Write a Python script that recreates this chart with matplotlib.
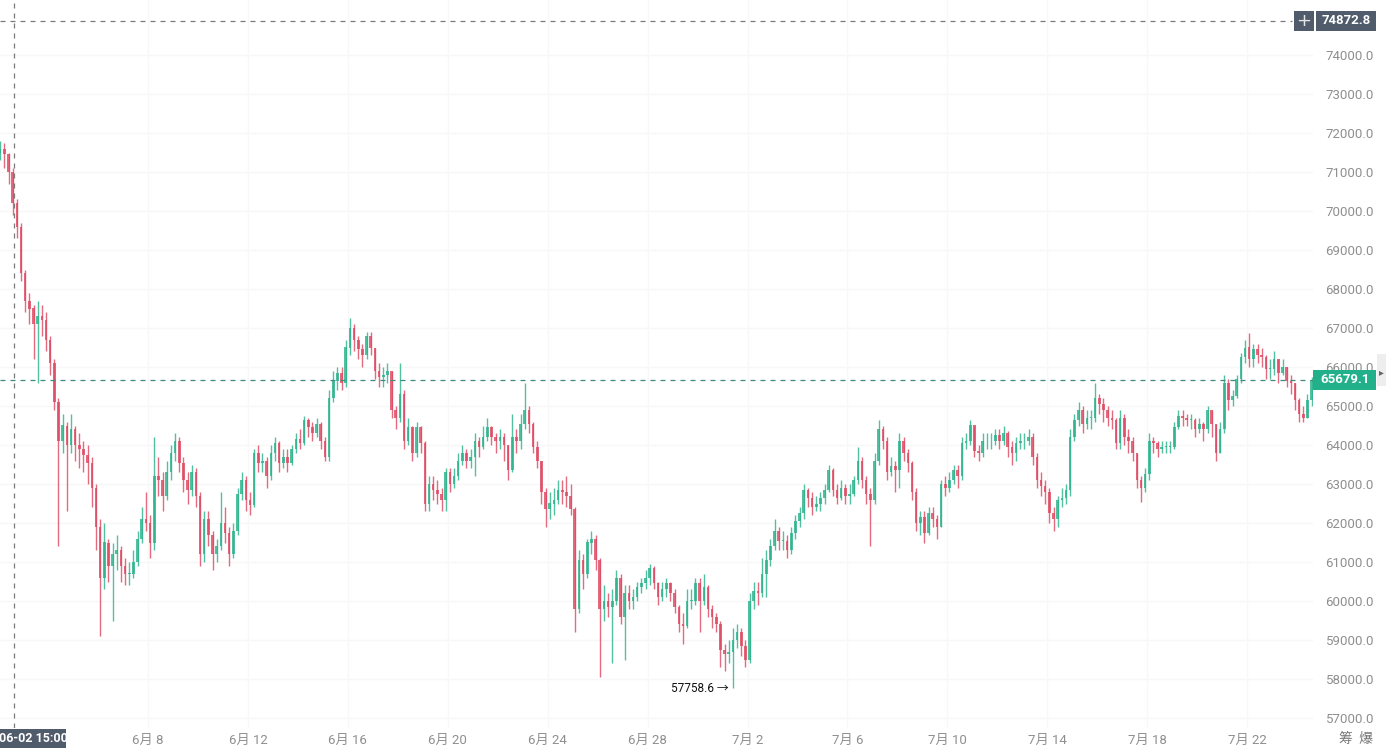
import matplotlib
matplotlib.use("Agg")
import matplotlib.pyplot as plt
from matplotlib.patches import Rectangle
import numpy as np
import pandas as pd

# ---------------- data (4-hour candles) ----------------
start_time = "2024-06-02 00:00"
first_open = 71500

close = [
    71600, 71450, 71000, 70200, 69600, 68400, 67700, 67500, 67100, 67300,
    67200, 66700, 66100, 65100, 64100, 64500, 64000, 64400, 64000, 63900,
    63750, 63550, 62900, 61900, 60600, 61500, 60900, 61200, 61300, 60900,
    60700, 60700, 61000, 61600, 62100, 62000, 61500, 63200, 63100, 62700,
    63300, 63800, 64100, 63550, 63100, 62850, 63300, 62700, 61200, 62100,
    61700, 61200, 61400, 62000, 61750, 61200, 61800, 62750, 63100, 62600,
    62450, 63800, 63550, 63600, 63200, 63800, 64050, 63550, 63700, 63550,
    63900, 64150, 64050, 64650, 64450, 64300, 64550, 64100, 63700, 65200,
    65650, 65850, 65600, 66500, 67000, 66700, 66450, 66300, 66800, 66500,
    65900, 65750, 65800, 65900, 64900, 64700, 65300, 64100, 64450, 63800,
    64450, 64050, 62500, 63000, 62850, 62750, 62600, 63300, 63000, 63200,
    63600, 63800, 63600, 63700, 64100, 63950, 64200, 64450, 64200, 64100,
    64200, 64000, 63350, 64200, 64100, 64550, 64900, 64550, 63950, 63600,
    62800, 62350, 62500, 62600, 62850, 62800, 62700, 62350, 59800, 61050,
    60700, 61500, 61600, 61050, 59800, 60000, 59850, 60000, 60600, 59600,
    60200, 60000, 60100, 60350, 60450, 60600, 60850, 60450, 60100, 60300,
    60450, 60200, 59850, 59400, 59350, 60000, 60000, 60450, 60000, 60350,
    59800, 59600, 59400, 58750, 58650, 58700, 59000, 59200, 58850, 58500,
    60000, 60250, 60200, 60700, 61050, 61400, 61800, 61550, 61550, 61300,
    61750, 62050, 62250, 62850, 62650, 62400, 62500, 62650, 62850, 63350,
    62850, 62650, 62900, 62700, 62750, 63100, 63600, 63100, 62750, 62600,
    63600, 64400, 64100, 63300, 63450, 63350, 64100, 63800, 63550, 62800,
    62000, 62150, 61750, 62250, 62100, 61900, 63000, 62900, 63100, 63350,
    63200, 64050, 64100, 64500, 63850, 63800, 64100, 64100, 64100, 64250,
    64100, 64300, 63950, 63800, 64050, 64100, 64100, 64200, 63700, 63100,
    62950, 62800, 62250, 62100, 62600, 62650, 62850, 64200, 64650, 64900,
    64550, 64700, 64700, 65200, 65050, 64900, 64700, 64650, 64050, 64700,
    64200, 64100, 63800, 63100, 62900, 63250, 64100, 64050, 63900, 63950,
    63950, 63950, 64450, 64750, 64700, 64650, 64650, 64400, 64550, 64400,
    64900, 64550, 63800, 64400, 65600, 65150, 65250, 65700, 66250, 66500,
    66200, 66450, 66300, 66250, 65950, 65950, 66200, 65850, 66000, 65650,
    65600, 65150, 64800, 64700, 65150, 65679.1,
]

high = [
    71800, 71750, 71500, 71100, 70300, 69700, 68500, 67900, 67600, 67700,
    67600, 67400, 66800, 66200, 65200, 64800, 64600, 64800, 64500, 64300,
    64100, 64000, 63700, 63000, 62100, 62000, 61600, 61500, 61700, 61400,
    61100, 61000, 61300, 61800, 62400, 62800, 62200, 64200, 63700, 63300,
    63600, 64000, 64300, 64200, 63700, 63300, 63500, 63400, 62800, 62300,
    62300, 61800, 61600, 62800, 62400, 61900, 62000, 62900, 63300, 63200,
    62800, 63900, 64000, 63800, 63700, 64000, 64200, 64100, 63900, 63900,
    64000, 64300, 64400, 64750, 64700, 64600, 64700, 64600, 64200, 65400,
    65900, 66000, 66000, 66700, 67250, 67100, 66800, 66600, 66900, 66900,
    66500, 66100, 66000, 66100, 65900, 65000, 66100, 65400, 64700, 64500,
    64600, 64500, 64100, 63200, 63200, 63100, 62900, 63400, 63400, 63400,
    63800, 64000, 63900, 63900, 64300, 64200, 64500, 64700, 64500, 64300,
    64400, 64300, 64000, 64800, 64400, 64800, 65600, 65000, 64600, 64100,
    63600, 62900, 62800, 62900, 63100, 63100, 63200, 63000, 62400, 61300,
    61200, 61600, 61800, 61700, 61100, 60400, 60200, 60300, 60800, 60700,
    60400, 60400, 60300, 60500, 60600, 60800, 60950, 60900, 60500, 60500,
    60600, 60500, 60300, 59900, 59700, 60300, 60300, 60600, 60600, 60700,
    60400, 59900, 59700, 59500, 58900, 59000, 59300, 59400, 59300, 59000,
    60200, 60500, 60500, 61100, 61300, 61600, 62100, 61900, 61800, 61700,
    61900, 62200, 62400, 63000, 62900, 62800, 62700, 62800, 63000, 63500,
    63400, 63000, 63100, 63000, 63000, 63200, 63950, 63700, 63200, 62900,
    63800, 64650, 64500, 64200, 63700, 63600, 64300, 64200, 63900, 63600,
    62900, 62300, 62300, 62400, 62400, 62200, 63100, 63200, 63300, 63500,
    63500, 64200, 64300, 64650, 64500, 64000, 64300, 64300, 64300, 64400,
    64400, 64500, 64350, 64100, 64200, 64300, 64300, 64400, 64300, 63800,
    63300, 63100, 62900, 62400, 62700, 62900, 63000, 64400, 64800, 65100,
    65000, 64900, 64900, 65600, 65300, 65200, 65000, 64900, 64700, 64900,
    64800, 64400, 64200, 63800, 63200, 63400, 64300, 64200, 64100, 64100,
    64100, 64100, 64600, 64900, 64900, 64800, 64800, 64700, 64700, 64600,
    65000, 64900, 64500, 64600, 65800, 65700, 65400, 65800, 66350, 66700,
    66870, 66600, 66600, 66500, 66300, 66200, 66400, 66200, 66200, 66000,
    65800, 65600, 65200, 65000, 65300, 65750,
]

low = [
    71300, 71100, 70700, 69900, 69300, 68200, 67400, 67100, 66200, 65600,
    66800, 66400, 65800, 64900, 61400, 63800, 62300, 63800, 63600, 63400,
    63300, 63000, 62400, 61300, 59100, 60300, 60500, 59500, 60800, 60500,
    60400, 60400, 60600, 60900, 61500, 61800, 61100, 61300, 62700, 62300,
    62600, 63100, 63600, 63300, 62800, 62500, 62700, 62400, 60900, 61000,
    61400, 60800, 61000, 61300, 61500, 60900, 61100, 61700, 62600, 62300,
    62200, 62400, 63300, 63300, 62900, 63100, 63600, 63300, 63400, 63300,
    63500, 63800, 63900, 64000, 64200, 64100, 64200, 63900, 63600, 63600,
    65100, 65400, 65400, 65500, 66300, 66400, 66200, 66000, 66200, 66300,
    65700, 65500, 65500, 65600, 64700, 64400, 64600, 63900, 64000, 63600,
    63700, 63800, 62300, 62300, 62600, 62500, 62300, 62300, 62800, 62900,
    63100, 63500, 63400, 63400, 63200, 63700, 63900, 64100, 64000, 63800,
    63900, 63600, 63100, 63300, 63800, 63900, 64400, 64300, 63800, 63400,
    62500, 61900, 62100, 62200, 62500, 62500, 62400, 62200, 59200, 59700,
    60300, 60600, 61200, 60800, 58050, 59500, 59600, 58400, 59900, 59400,
    58500, 59800, 59800, 60000, 60200, 60300, 60400, 60300, 59900, 60000,
    60100, 60000, 59700, 59200, 58900, 59300, 59800, 59900, 59200, 59900,
    59600, 59300, 59200, 58300, 58200, 58400, 57758.6, 58800, 58600, 58300,
    58400, 59800, 59900, 60100, 60100, 60900, 61300, 61300, 61300, 61100,
    61200, 61600, 61900, 62100, 62400, 62200, 62300, 62300, 62500, 62800,
    62700, 62500, 62600, 62500, 62500, 62700, 63000, 62900, 62500, 61400,
    62500, 63500, 63900, 63100, 63200, 62800, 62900, 63600, 63300, 62600,
    61800, 61700, 61500, 61700, 61900, 61600, 61900, 62700, 62800, 63000,
    62900, 63100, 63900, 64000, 63700, 63600, 63700, 63900, 63900, 64000,
    63900, 64000, 63700, 63500, 63600, 63900, 63900, 64000, 63500, 62900,
    62700, 62500, 62000, 61800, 61900, 62400, 62500, 62700, 64100, 64500,
    64300, 64400, 64400, 64600, 64800, 64600, 64500, 64400, 63900, 63900,
    64000, 63800, 63600, 62900, 62550, 62800, 63100, 63800, 63700, 63800,
    63800, 63800, 63900, 64400, 64500, 64500, 64400, 64200, 64300, 64100,
    64300, 64200, 63600, 63800, 64300, 64900, 65000, 65200, 65600, 66100,
    66000, 66000, 66100, 66000, 65700, 65700, 65800, 65600, 65800, 65500,
    65300, 64900, 64600, 64600, 64700, 65000,
]

x_tick_labels = ["6月 8", "6月 12", "6月 16", "6月 20", "6月 24", "6月 28",
                 "7月 2", "7月 6", "7月 10", "7月 14", "7月 18", "7月 22"]
x_tick_dates = ["2024-06-08", "2024-06-12", "2024-06-16", "2024-06-20",
                "2024-06-24", "2024-06-28", "2024-07-02", "2024-07-06",
                "2024-07-10", "2024-07-14", "2024-07-18", "2024-07-22"]
y_ticks = list(range(57000, 75000, 1000))

crosshair_time = "2024-06-02 15:00"
crosshair_label = "06-02 15:00"
crosshair_price = 74872.8
last_price = 65679.1
low_label_value = 57758.6

# ---------------- figure ----------------
W, H = 1386, 748
fig = plt.figure(figsize=(W / 100, H / 100), dpi=100)
fig.patch.set_facecolor("white")

plot_right_px = 1313
plot_bottom_px = 728
ax = fig.add_axes([0, (H - plot_bottom_px) / H, plot_right_px / W, plot_bottom_px / H])
ax.set_facecolor("white")

t0 = pd.Timestamp(start_time)
def to_days(ts):
    return (pd.Timestamp(ts) - t0) / pd.Timedelta(days=1)

n = len(close)
times = pd.date_range(start_time, periods=n, freq="4h")
xc = np.array([(t - t0) / pd.Timedelta(days=1) for t in times]) + 1 / 12.0
opens = [first_open] + close[:-1]

up_col = "#2db38c"
dn_col = "#de4a63"
body_w = (1 / 6) * 0.62
for i in range(n):
    o, c = opens[i], close[i]
    hi = max(high[i], o, c)
    lo = min(low[i], o, c)
    col = up_col if c >= o else dn_col
    ax.vlines(xc[i], lo, hi, color=col, lw=1.0, alpha=0.82, zorder=3)
    bottom = min(o, c)
    hgt = max(abs(c - o), 15)
    ax.bar(xc[i], hgt, bottom=bottom, width=body_w, color=col, alpha=0.82,
           linewidth=0, zorder=3)

# axis limits (pixel -> data mapping)
px_per_day = 24.98
x_left = to_days("2024-06-08") - 148 / px_per_day
x_right = x_left + plot_right_px / px_per_day
ax.set_xlim(x_left, x_right)
ppx = 1000 / 39.0
y_top = 57000 + 718 * ppx
y_bot = 57000 - (plot_bottom_px - 718) * ppx
ax.set_ylim(y_bot, y_top)

for s in ax.spines.values():
    s.set_visible(False)

# faint grid
for yv in y_ticks:
    ax.axhline(yv, color="#f7f7f7", lw=1, zorder=0)
for d in x_tick_dates:
    ax.axvline(to_days(d), color="#f8f8f8", lw=1, zorder=0)

font_fam = ["Roboto", "Noto Sans CJK SC", "DejaVu Sans"]

# x ticks
ax.set_xticks([to_days(d) for d in x_tick_dates])
ax.set_xticklabels(x_tick_labels, fontfamily=font_fam, fontsize=9.5, color="#8f8f8f")
ax.tick_params(axis="x", length=0, pad=4)

# y ticks on right
ax.yaxis.tick_right()
ax.set_yticks(y_ticks)
ax.set_yticklabels([f"{v:.1f}" for v in y_ticks], fontfamily=font_fam,
                   fontsize=9.5, color="#8f8f8f")
ax.tick_params(axis="y", length=0, pad=9)

# last price dashed line
ax.axhline(last_price, color="#3e8a7c", lw=0.9, ls=(0, (4, 4)), zorder=4)

# crosshair
cx = to_days(crosshair_time)
ax.plot([x_left, x_left + 1292 / px_per_day], [crosshair_price, crosshair_price],
        color="#7a7a7a", lw=0.9, ls=(0, (4, 4)), zorder=4, clip_on=False)
ax.axvline(cx, color="#7a7a7a", lw=0.9, ls=(0, (4, 4)), zorder=4)

# ---- pixel-placed label boxes ----
def px_box(x0, y0, x1, y1, color):
    fig.add_artist(Rectangle((x0 / W, 1 - y1 / H), (x1 - x0) / W, (y1 - y0) / H,
                             transform=fig.transFigure, fc=color, ec="none", zorder=20))

def px_text(x, y, s, **kw):
    fig.text(x / W, 1 - y / H, s, zorder=21, **kw)

def price_to_py(p):
    return (y_top - p) / ppx

slate = "#505b6b"
cy = price_to_py(crosshair_price)
px_box(1294, cy - 10, 1314, cy + 10, slate)
px_text(1304, cy, "+", ha="center", va="center", color="#e6e6e6", fontsize=13,
        fontfamily=["DejaVu Sans"])
px_box(1316, cy - 10, 1376, cy + 10, slate)
px_text(1346, cy, f"{crosshair_price:.1f}", ha="center", va="center", color="white",
        fontsize=9.5, fontweight="bold", fontfamily=font_fam)

ly = price_to_py(last_price)
px_box(1313, ly - 10, 1376, ly + 10, "#22b08a")
px_text(1345, ly, f"{last_price:.1f}", ha="center", va="center", color="white",
        fontsize=9.5, fontweight="bold", fontfamily=font_fam)

# scroll handle on far right
px_box(1377, 354, 1386, 386, "#eeeeee")
px_text(1381, 372, "▸", ha="center", va="center", fontsize=7, color="#666666",
        fontfamily=["DejaVu Sans"])

# crosshair time label
px_box(0, 729, 66, 748, slate)
px_text(33, 738.5, crosshair_label, ha="center", va="center", color="white",
        fontsize=9, fontweight="bold", fontfamily=font_fam)

# bottom-right glyphs
px_text(1356, 739, "筹  爆", ha="center", va="center", color="#777777", fontsize=10,
        fontfamily=["Noto Sans CJK SC", "DejaVu Sans"])

# low annotation
i_low = int(np.argmin(low))
ax.annotate(f"{low_label_value} →", xy=(xc[i_low], low_label_value),
            xytext=(-3, 0), textcoords="offset points", ha="right", va="center",
            fontsize=8.5, color="#111111", fontfamily=font_fam, zorder=6)

fig.savefig("out.png", dpi=100)
